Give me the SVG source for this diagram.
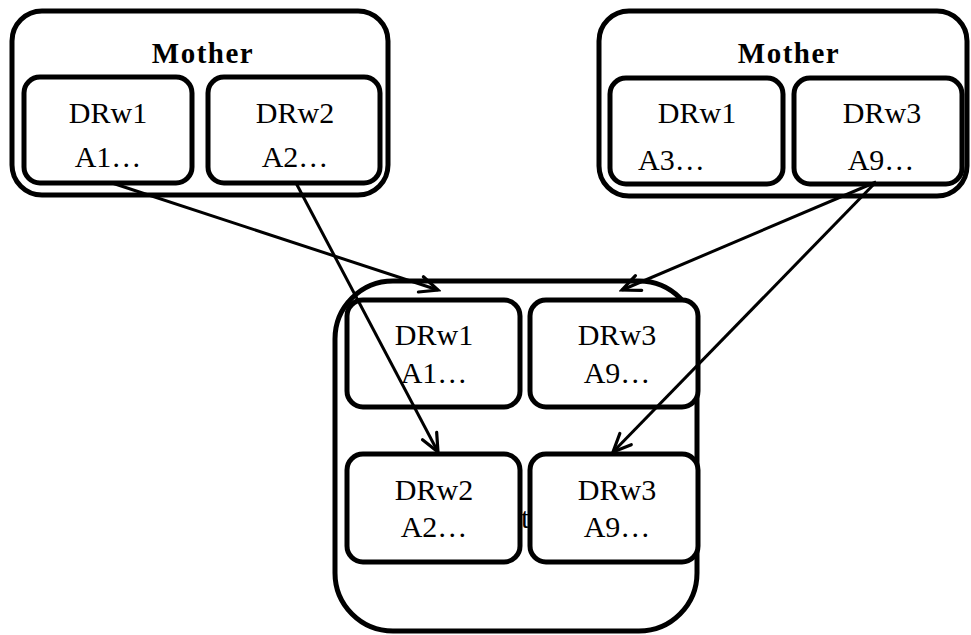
<svg xmlns="http://www.w3.org/2000/svg" width="971" height="635" viewBox="0 0 971 635">
<defs>
<style>
.outer{fill:#fff;stroke:#000;stroke-width:5}
.inner{fill:#fff;stroke:#000;stroke-width:5}
.t{font-family:"Liberation Serif","Times New Roman",serif;font-size:30px;fill:#000;text-anchor:middle}
.title{font-family:"Liberation Serif","Times New Roman",serif;font-size:29px;font-weight:bold;fill:#000;text-anchor:middle;letter-spacing:1.5px}
.edge{fill:none;stroke:#000;stroke-width:3}
</style>
<marker id="arr" viewBox="0 0 24 24" refX="21" refY="12" markerWidth="24" markerHeight="24" markerUnits="userSpaceOnUse" orient="auto">
<path d="M3,4 L21,12 L3,20" fill="none" stroke="#000" stroke-width="3.2" stroke-linecap="round"/>
</marker>
</defs>
<rect width="971" height="635" fill="#fff"/>
<g id="mother1">
<rect class="outer" x="12" y="11" width="376" height="184" rx="30"/>
<text class="title" x="203" y="63">Mother</text>
</g>
<g id="m1-drw1">
<rect class="inner" x="24" y="77" width="168" height="106" rx="16"/>
<text class="t" x="108" y="123">DRw1</text>
<text class="t" x="108" y="167">A1…</text>
</g>
<g id="m1-drw2">
<rect class="inner" x="208" y="77" width="172" height="106" rx="16"/>
<text class="t" x="295" y="123">DRw2</text>
<text class="t" x="295" y="167">A2…</text>
</g>
<g id="mother2">
<rect class="outer" x="599" y="11" width="368" height="185" rx="30"/>
<text class="title" x="789" y="63">Mother</text>
</g>
<g id="m2-drw1">
<rect class="inner" x="610" y="78" width="173" height="106" rx="16"/>
<text class="t" x="697" y="123">DRw1</text>
<text class="t" x="638" y="170" style="text-anchor:start">A3…</text>
</g>
<g id="m2-drw3">
<rect class="inner" x="794" y="78" width="168" height="106" rx="16"/>
<text class="t" x="882" y="123">DRw3</text>
<text class="t" x="881" y="170">A9…</text>
</g>
<g id="child">
<rect class="outer" x="335" y="281" width="362" height="350" rx="58"/>
<text class="t" x="521" y="528" style="text-anchor:start">t</text>
</g>
<g id="c-drw1">
<rect class="inner" x="347" y="300" width="173" height="107" rx="16"/>
<text class="t" x="434" y="345">DRw1</text>
<text class="t" x="434" y="383">A1…</text>
</g>
<g id="c-drw3a">
<rect class="inner" x="530" y="300" width="168" height="107" rx="16"/>
<text class="t" x="617" y="345">DRw3</text>
<text class="t" x="617" y="383">A9…</text>
</g>
<g id="c-drw2">
<rect class="inner" x="347" y="454" width="173" height="108" rx="16"/>
<text class="t" x="434" y="500">DRw2</text>
<text class="t" x="434" y="537">A2…</text>
</g>
<g id="c-drw3b">
<rect class="inner" x="530" y="454" width="168" height="108" rx="16"/>
<text class="t" x="617" y="500">DRw3</text>
<text class="t" x="617" y="537">A9…</text>
</g>
<g id="connectors">
<path class="edge" d="M112,183 L438,290" marker-end="url(#arr)"/>
<path class="edge" d="M296,183 L438,452" marker-end="url(#arr)"/>
<path class="edge" d="M876,182 L622,290" marker-end="url(#arr)"/>
<path class="edge" d="M876,182 L613,452" marker-end="url(#arr)"/>
</g>
</svg>
